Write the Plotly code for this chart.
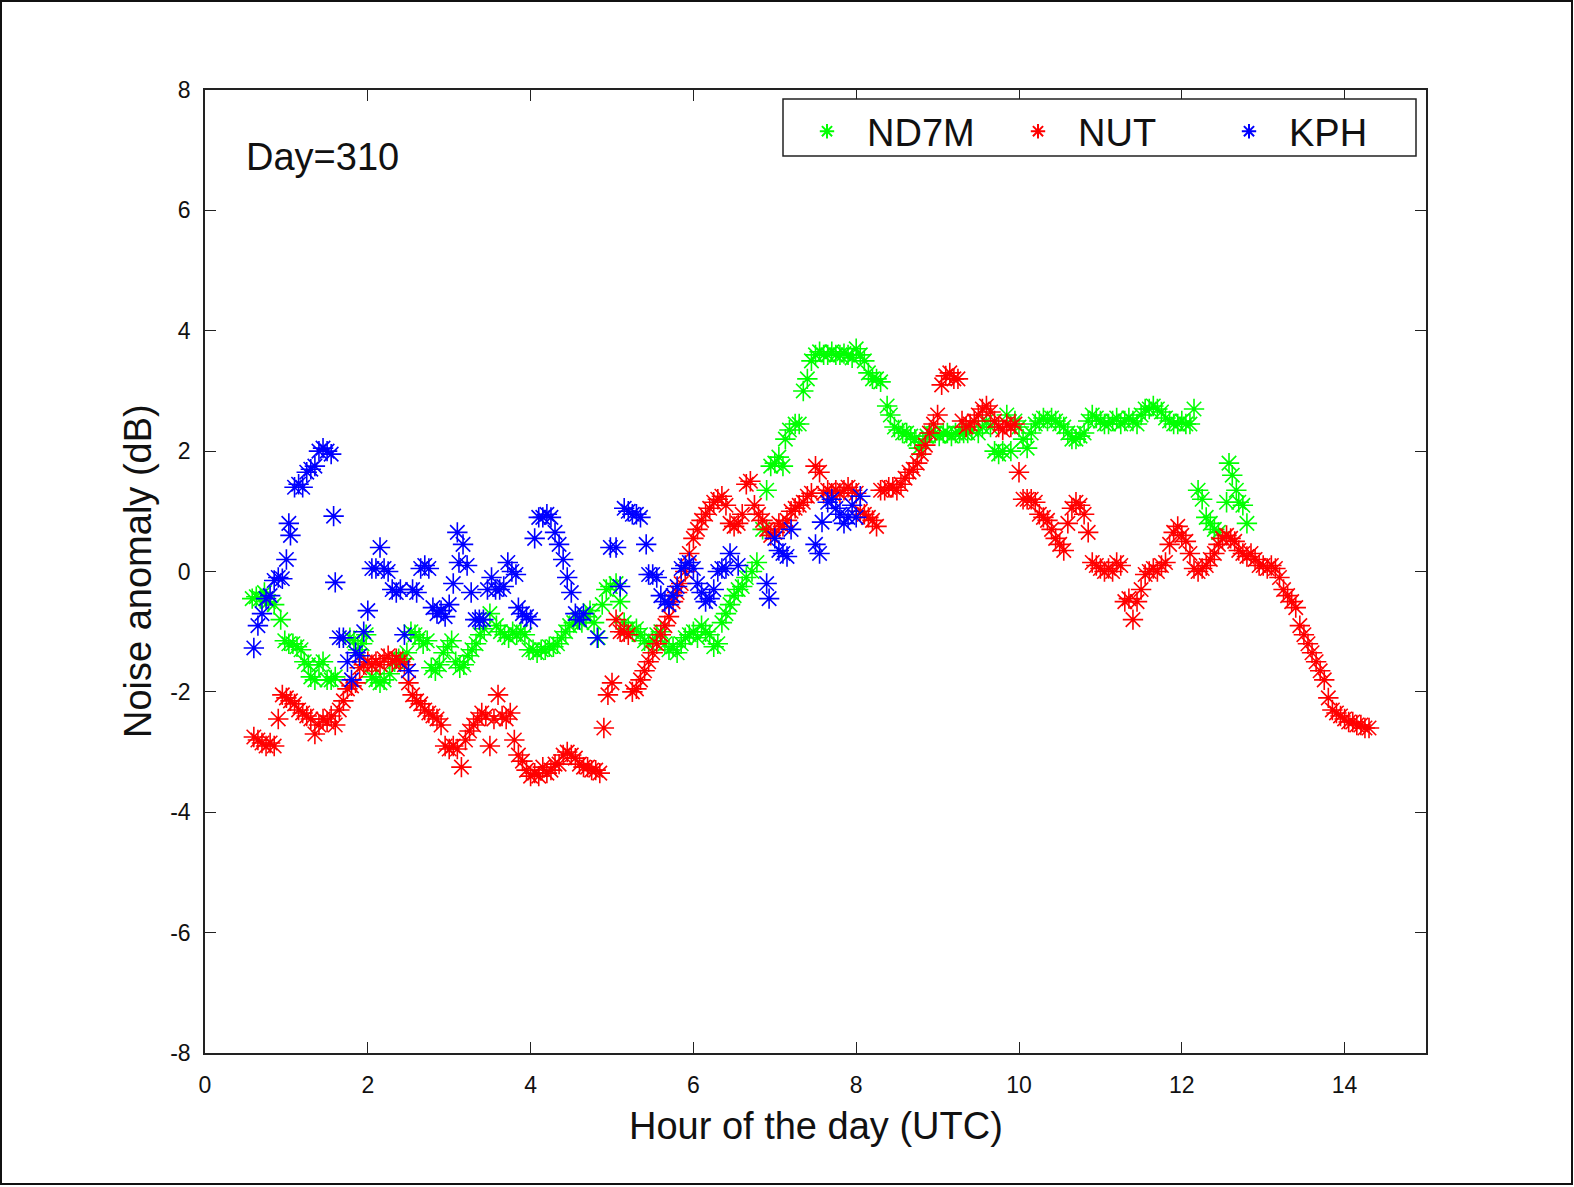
import plotly.graph_objects as go

# ---------------- data ----------------
nd7m_hour = [0.58, 0.63, 0.68, 0.73, 0.78, 0.85, 0.93, 0.98, 1.03, 1.08, 1.13, 1.18, 1.22, 1.27, 1.3, 1.35, 1.4, 1.45,
             1.5, 1.55, 1.6, 1.78, 1.83, 1.88, 1.93, 1.98, 2.05, 2.1, 2.15, 2.2, 2.27, 2.33, 2.38, 2.43, 2.48, 2.53,
             2.58, 2.63, 2.68, 2.73, 2.78, 2.83, 2.88, 2.93, 2.98, 3.03, 3.08, 3.13, 3.18, 3.23, 3.28, 3.33, 3.38,
             3.43, 3.5, 3.58, 3.63, 3.68, 3.73, 3.78, 3.83, 3.88, 3.93, 3.98, 4.03, 4.08, 4.13, 4.18, 4.23, 4.28,
             4.33, 4.38, 4.43, 4.48, 4.53, 4.58, 4.63, 4.68, 4.73, 4.78, 4.83, 4.88, 4.93, 4.98, 5.05, 5.1, 5.15,
             5.2, 5.25, 5.3, 5.35, 5.4, 5.45, 5.5, 5.55, 5.6, 5.65, 5.7, 5.75, 5.8, 5.85, 5.9, 5.95, 6.0, 6.05, 6.1,
             6.15, 6.2, 6.25, 6.3, 6.35, 6.4, 6.45, 6.5, 6.55, 6.6, 6.65, 6.72, 6.78, 6.85, 6.9, 6.95, 7.0, 7.05,
             7.1, 7.13, 7.18, 7.25, 7.3, 7.35, 7.4, 7.45, 7.5, 7.55, 7.6, 7.65, 7.7, 7.75, 7.8, 7.85, 7.9, 7.95, 8.0,
             8.05, 8.1, 8.15, 8.2, 8.25, 8.3, 8.38, 8.42, 8.47, 8.52, 8.57, 8.62, 8.67, 8.72, 8.77, 8.82, 8.87, 8.92,
             8.97, 9.02, 9.07, 9.12, 9.17, 9.22, 9.27, 9.32, 9.37, 9.42, 9.5, 9.55, 9.6, 9.65, 9.7, 9.75, 9.8, 9.85,
             9.9, 9.95, 10.0, 10.05, 10.1, 10.15, 10.2, 10.25, 10.3, 10.35, 10.4, 10.45, 10.5, 10.55, 10.6, 10.65,
             10.7, 10.75, 10.8, 10.85, 10.9, 10.95, 11.0, 11.05, 11.1, 11.15, 11.2, 11.25, 11.3, 11.35, 11.4, 11.45,
             11.5, 11.55, 11.6, 11.65, 11.7, 11.75, 11.8, 11.85, 11.9, 11.95, 12.0, 12.05, 12.1, 12.15, 12.2, 12.25,
             12.3, 12.35, 12.4, 12.45, 12.55, 12.58, 12.62, 12.67, 12.7, 12.75, 12.8]
nd7m_db = [-0.45, -0.42, -0.45, -0.35, -0.5, -0.55, -0.8, -1.15, -1.2, -1.2, -1.25, -1.3, -1.5, -1.55, -1.75, -1.8,
           -1.55, -1.5, -1.8, -1.8, -1.75, -1.1, -1.15, -1.3, -1.2, -1.05, -1.75, -1.8, -1.85, -1.8, -1.7, -1.5,
           -1.45, -1.45, -1.35, -1.0, -1.05, -1.1, -1.2, -1.15, -1.6, -1.65, -1.55, -1.35, -1.25, -1.15, -1.5, -1.6,
           -1.55, -1.4, -1.3, -1.2, -1.05, -0.95, -0.7, -0.9, -1.0, -1.05, -1.1, -1.0, -1.05, -1.0, -1.05, -1.3,
           -1.3, -1.35, -1.3, -1.3, -1.25, -1.25, -1.2, -1.1, -1.0, -0.9, -0.85, -0.8, -0.85, -0.75, -0.65, -0.85,
           -1.1, -0.55, -0.3, -0.25, -0.2, -0.5, -0.85, -0.95, -1.0, -0.95, -1.05, -1.15, -1.2, -1.15, -1.05, -1.0,
           -1.2, -1.3, -1.25, -1.35, -1.2, -1.1, -1.05, -1.0, -1.1, -0.9, -1.0, -1.05, -1.25, -1.2, -0.85, -0.7,
           -0.55, -0.4, -0.3, -0.25, -0.1, 0.0, 0.15, 0.7, 1.35, 1.75, 1.8, 1.9, 1.75, 2.2, 2.35, 2.45, 2.45, 3.0,
           3.2, 3.5, 3.6, 3.65, 3.6, 3.6, 3.65, 3.6, 3.6, 3.62, 3.6, 3.55, 3.7, 3.6, 3.5, 3.3, 3.2, 3.2, 3.15,
           2.75, 2.6, 2.4, 2.35, 2.3, 2.3, 2.25, 2.2, 2.05, 2.15, 2.25, 2.3, 2.3, 2.25, 2.3, 2.3, 2.25, 2.3, 2.3,
           2.3, 2.3, 2.35, 2.3, 2.4, 2.5, 2.4, 2.0, 1.95, 2.0, 2.6, 2.0, 2.5, 2.4, 2.2, 2.05, 2.3, 2.45, 2.5, 2.55,
           2.5, 2.55, 2.5, 2.45, 2.4, 2.3, 2.2, 2.2, 2.25, 2.3, 2.5, 2.6, 2.55, 2.5, 2.45, 2.45, 2.5, 2.55, 2.45,
           2.5, 2.55, 2.5, 2.45, 2.6, 2.7, 2.7, 2.75, 2.7, 2.65, 2.55, 2.5, 2.45, 2.45, 2.5, 2.45, 2.45, 2.7, 1.35,
           1.2, 0.9, 0.8, 0.7, 0.65, 1.15, 1.8, 1.6, 1.35, 1.15, 1.1, 0.8]

nut_hour = [0.6, 0.65, 0.7, 0.75, 0.8, 0.85, 0.9, 0.95, 1.0, 1.05, 1.1, 1.15, 1.2, 1.25, 1.3, 1.35, 1.4, 1.45, 1.5,
            1.55, 1.6, 1.65, 1.7, 1.75, 1.8, 1.85, 1.9, 1.95, 2.0, 2.05, 2.1, 2.15, 2.2, 2.25, 2.3, 2.35, 2.4, 2.45,
            2.5, 2.55, 2.6, 2.65, 2.7, 2.75, 2.8, 2.85, 2.9, 2.95, 3.0, 3.05, 3.1, 3.15, 3.2, 3.25, 3.3, 3.35, 3.4,
            3.45, 3.5, 3.55, 3.6, 3.65, 3.7, 3.75, 3.8, 3.85, 3.9, 3.95, 4.0, 4.05, 4.1, 4.15, 4.2, 4.25, 4.3,
            4.35, 4.4, 4.45, 4.5, 4.55, 4.6, 4.65, 4.7, 4.75, 4.8, 4.85, 4.9, 4.95, 5.0, 5.05, 5.1, 5.15, 5.2,
            5.25, 5.3, 5.35, 5.4, 5.45, 5.5, 5.55, 5.6, 5.65, 5.7, 5.75, 5.8, 5.85, 5.9, 5.95, 6.0, 6.05, 6.1,
            6.15, 6.2, 6.25, 6.3, 6.35, 6.4, 6.45, 6.5, 6.55, 6.6, 6.65, 6.7, 6.75, 6.8, 6.85, 6.9, 6.95, 7.0,
            7.05, 7.1, 7.15, 7.2, 7.25, 7.3, 7.35, 7.4, 7.45, 7.5, 7.55, 7.6, 7.65, 7.7, 7.75, 7.8, 7.85, 7.9,
            7.95, 8.0, 8.05, 8.1, 8.15, 8.2, 8.25, 8.3, 8.35, 8.4, 8.45, 8.5, 8.55, 8.6, 8.65, 8.7, 8.75, 8.8,
            8.85, 8.9, 8.95, 9.0, 9.05, 9.1, 9.15, 9.2, 9.25, 9.3, 9.35, 9.4, 9.45, 9.5, 9.55, 9.6, 9.65, 9.7,
            9.75, 9.8, 9.85, 9.9, 9.95, 10.0, 10.05, 10.1, 10.15, 10.2, 10.25, 10.3, 10.35, 10.4, 10.45, 10.5,
            10.55, 10.6, 10.65, 10.7, 10.75, 10.8, 10.85, 10.9, 10.95, 11.0, 11.05, 11.1, 11.15, 11.2, 11.25,
            11.3, 11.35, 11.4, 11.45, 11.5, 11.55, 11.6, 11.65, 11.7, 11.75, 11.8, 11.85, 11.9, 11.95, 12.0,
            12.05, 12.1, 12.15, 12.2, 12.25, 12.3, 12.35, 12.4, 12.45, 12.5, 12.55, 12.6, 12.65, 12.7, 12.75,
            12.8, 12.85, 12.9, 12.95, 13.0, 13.05, 13.1, 13.15, 13.2, 13.25, 13.3, 13.35, 13.4, 13.45, 13.5,
            13.55, 13.6, 13.65, 13.7, 13.75, 13.8, 13.85, 13.9, 13.95, 14.0, 14.05, 14.1, 14.15, 14.2, 14.25, 14.3]
nut_db = [-2.75, -2.8, -2.85, -2.9, -2.85, -2.9, -2.45, -2.05, -2.1, -2.15, -2.2, -2.3, -2.35, -2.4, -2.45, -2.7,
          -2.55, -2.45, -2.5, -2.4, -2.55, -2.3, -2.15, -1.95, -1.9, -1.85, -1.6, -1.55, -1.5, -1.55, -1.5, -1.55,
          -1.45, -1.4, -1.5, -1.45, -1.5, -1.55, -1.85, -2.05, -2.15, -2.2, -2.3, -2.35, -2.4, -2.45, -2.55, -2.9,
          -2.95, -2.9, -2.95, -3.25, -2.8, -2.65, -2.55, -2.45, -2.35, -2.4, -2.9, -2.45, -2.05, -2.4, -2.45,
          -2.35, -2.8, -3.05, -3.15, -3.3, -3.4, -3.35, -3.4, -3.25, -3.35, -3.3, -3.2, -3.2, -3.05, -3.0, -3.05,
          -3.1, -3.2, -3.25, -3.25, -3.3, -3.3, -3.35, -2.6, -2.05, -1.85, -0.8, -1.0, -1.0, -1.05, -2.0, -1.95,
          -1.8, -1.65, -1.5, -1.35, -1.2, -1.05, -0.9, -0.75, -0.5, -0.35, -0.2, 0.0, 0.3, 0.55, 0.7, 0.85, 0.95,
          1.05, 1.15, 1.2, 1.25, 1.1, 0.8, 0.75, 0.8, 0.95, 1.45, 1.5, 1.1, 0.95, 0.85, 0.7, 0.6, 0.65, 0.8, 0.75,
          0.85, 1.0, 1.05, 1.1, 1.15, 1.25, 1.3, 1.75, 1.65, 1.3, 1.35, 1.3, 1.35, 1.3, 1.35, 1.4, 1.35, 1.3, 1.0,
          0.95, 0.9, 0.85, 0.75, 1.35, 1.35, 1.4, 1.4, 1.35, 1.45, 1.55, 1.65, 1.7, 1.8, 1.95, 2.1, 2.3, 2.45, 2.6,
          3.1, 3.25, 3.3, 3.2, 3.2, 2.5, 2.4, 2.45, 2.5, 2.6, 2.7, 2.75, 2.65, 2.5, 2.4, 2.35, 2.45, 2.4, 2.45,
          1.65, 1.2, 1.2, 1.2, 1.15, 0.95, 0.9, 0.85, 0.7, 0.55, 0.45, 0.35, 0.8, 1.05, 1.15, 1.1, 0.95, 0.65,
          0.15, 0.1, 0.05, 0.0, 0.05, 0.0, 0.15, 0.1, -0.5, -0.45, -0.8, -0.5, -0.3, -0.05, 0.0, 0.05, 0.0, 0.1,
          0.15, 0.45, 0.65, 0.75, 0.6, 0.5, 0.3, 0.05, 0.0, 0.05, 0.1, 0.2, 0.3, 0.45, 0.55, 0.6, 0.55, 0.5, 0.35,
          0.3, 0.25, 0.3, 0.2, 0.1, 0.1, 0.05, 0.1, 0.05, -0.1, -0.3, -0.4, -0.5, -0.6, -0.9, -1.05, -1.2, -1.35,
          -1.5, -1.65, -1.8, -2.1, -2.3, -2.35, -2.4, -2.45, -2.5, -2.5, -2.55, -2.55, -2.6, -2.6]

kph_hour = [0.6, 0.65, 0.7, 0.75, 0.8, 0.85, 0.9, 0.95, 1.0, 1.03, 1.05, 1.1, 1.15, 1.2, 1.25, 1.3, 1.35, 1.4, 1.45,
            1.5, 1.55, 1.58, 1.6, 1.65, 1.7, 1.75, 1.8, 1.85, 1.9, 1.95, 2.0, 2.05, 2.1, 2.15, 2.2, 2.25, 2.3, 2.35,
            2.4, 2.45, 2.5, 2.55, 2.6, 2.65, 2.7, 2.75, 2.8, 2.85, 2.9, 2.95, 3.0, 3.05, 3.1, 3.12, 3.17, 3.22,
            3.27, 3.32, 3.37, 3.42, 3.47, 3.52, 3.57, 3.62, 3.67, 3.72, 3.77, 3.82, 3.85, 3.9, 3.95, 4.0, 4.05,
            4.1, 4.15, 4.2, 4.25, 4.3, 4.35, 4.4, 4.45, 4.5, 4.55, 4.6, 4.65, 4.82, 4.98, 5.05, 5.1, 5.15, 5.2,
            5.25, 5.3, 5.35, 5.42, 5.45, 5.5, 5.55, 5.6, 5.65, 5.7, 5.75, 5.8, 5.85, 5.9, 5.95, 6.0, 6.05, 6.1,
            6.15, 6.2, 6.25, 6.3, 6.35, 6.4, 6.45, 6.55, 6.9, 6.93, 7.0, 7.05, 7.1, 7.15, 7.2, 7.5, 7.55, 7.58,
            7.65, 7.7, 7.75, 7.8, 7.85, 7.9, 7.95, 8.0, 8.05]
kph_db = [-1.27, -0.9, -0.7, -0.45, -0.4, -0.15, -0.1, -0.12, 0.2, 0.8, 0.6, 1.4, 1.45, 1.4, 1.65, 1.7, 1.75, 2.0,
          2.05, 2.0, 1.95, 0.92, -0.18, -1.1, -1.1, -1.5, -1.8, -1.35, -1.4, -1.0, -0.65, 0.05, 0.05, 0.4, 0.05,
          0.0, -0.3, -0.35, -0.3, -1.05, -1.65, -0.3, -0.35, 0.05, 0.1, 0.05, -0.6, -0.7, -0.65, -0.75, -0.55,
          -0.2, 0.65, 0.15, 0.45, 0.1, -0.35, -0.8, -0.8, -0.8, -0.3, -0.1, -0.3, -0.3, -0.25, 0.15, 0.0, -0.05,
          -0.6, -0.7, -0.75, -0.8, 0.55, 0.9, 0.9, 0.95, 0.9, 0.65, 0.45, 0.2, -0.1, -0.35, -0.7, -0.8, -0.7,
          -1.1, 0.4, 0.4, -0.25, 1.05, 1.0, 0.95, 0.95, 0.9, 0.45, -0.05, -0.05, -0.1, -0.4, -0.5, -0.55, -0.4,
          -0.25, 0.05, 0.1, 0.15, 0.05, -0.2, -0.35, -0.5, -0.45, -0.3, 0.0, 0.05, 0.05, 0.3, 0.1, -0.2, -0.45,
          0.55, 0.35, 0.3, 0.25, 0.7, 0.45, 0.3, 0.82, 1.15, 1.2, 1.05, 0.95, 0.8, 0.9, 1.1, 0.9, 1.25]

series_names = ["ND7M", "NUT", "KPH"]
series_colors = ["#00ff00", "#ff0000", "#0000ff"]
x_ticks = [0, 2, 4, 6, 8, 10, 12, 14]
y_ticks = [-8, -6, -4, -2, 0, 2, 4, 6, 8]

# ---------------- figure ----------------
FONT = "Liberation Sans, Arial, Helvetica, sans-serif"
W, H = 1574, 1187
L, R, T, B = 205, 148, 90, 134
pw, ph = W - L - R, H - T - B

fig = go.Figure()
for name, color, xs, ys in zip(series_names, series_colors,
                               [nd7m_hour, nut_hour, kph_hour],
                               [nd7m_db, nut_db, kph_db]):
    fig.add_trace(go.Scatter(
        x=xs, y=ys, mode="markers", name=name,
        marker=dict(symbol="asterisk-open", size=17, color=color,
                    line=dict(color=color, width=1.6)),
    ))

axis_common = dict(
    showgrid=False, zeroline=False, showline=True, linecolor="#222222", linewidth=1.5,
    mirror="ticks", ticks="inside", ticklen=11, tickwidth=1.3, tickcolor="#222222",
    tickfont=dict(family=FONT, size=23, color="#111111"),
)
fig.update_xaxes(range=[0, 15], tickvals=x_ticks, ticktext=[str(v) for v in x_ticks],
                 ticklabelstandoff=11, **axis_common)
fig.update_yaxes(range=[-8, 8], tickvals=y_ticks, ticktext=[str(v) for v in y_ticks],
                 ticklabelstandoff=8, **axis_common)

fig.add_annotation(text="Hour of the day (UTC)", xref="paper", yref="paper",
                   x=0.5, y=-(1126 - (T + ph)) / ph, xanchor="center", yanchor="middle",
                   showarrow=False, font=dict(family=FONT, size=38, color="#111111"))
fig.add_annotation(text="Noise anomaly (dB)", xref="paper", yref="paper",
                   x=(137.5 - L) / pw, y=0.5, xanchor="center", yanchor="middle", textangle=-90,
                   showarrow=False, font=dict(family=FONT, size=38, color="#111111"))
fig.add_annotation(text="Day=310", xref="x", yref="y", x=0.48, y=6.89,
                   xanchor="left", yanchor="middle", showarrow=False,
                   font=dict(family=FONT, size=38, color="#111111"))

# outer frame around the whole picture
fig.add_shape(type="rect", xref="paper", yref="paper",
              x0=(1 - L) / pw, x1=(1572 - L) / pw,
              y0=1 - (1184 - T) / ph, y1=1 - (1 - T) / ph,
              line=dict(color="#111111", width=2), fillcolor="rgba(0,0,0,0)", layer="below")

# legend box (drawn as a shape so the entries can sit inside freely)
fig.add_shape(type="rect", xref="paper", yref="paper",
              x0=(783 - L) / pw, x1=(1416 - L) / pw,
              y0=1 - (156 - T) / ph, y1=1 - (99 - T) / ph,
              line=dict(color="#222222", width=1.5), fillcolor="white", layer="above")

fig.update_layout(
    width=W, height=H,
    margin=dict(l=L, r=R, t=T, b=B, pad=0),
    paper_bgcolor="white", plot_bgcolor="white",
    font=dict(family=FONT, color="#111111"),
    showlegend=True,
    legend=dict(
        orientation="h", x=(787 - L) / pw, y=1 - (100 - T) / ph, xanchor="left", yanchor="top",
        bgcolor="rgba(0,0,0,0)", borderwidth=0,
        font=dict(family=FONT, size=38, color="#111111"),
        itemwidth=70, entrywidth=126, entrywidthmode="pixels", itemsizing="constant",
        tracegroupgap=0,
    ),
)

fig.write_html("out.html")
